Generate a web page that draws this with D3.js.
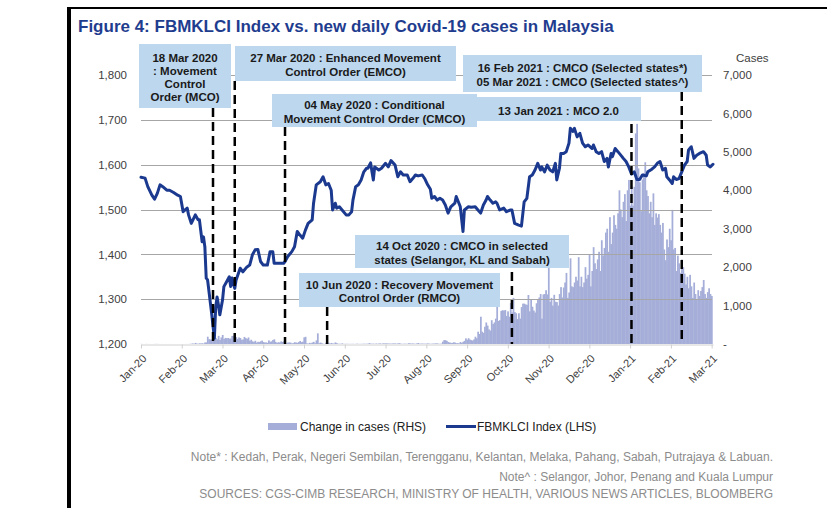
<!DOCTYPE html>
<html>
<head>
<meta charset="utf-8">
<script src="https://cdn.jsdelivr.net/npm/d3@7"></script>
<style>
  html, body { margin: 0; padding: 0; background: #ffffff; }
  svg { display: block; font-family: "Liberation Sans", Arial, sans-serif; }
</style>
</head>
<body>
<svg id="chart" width="836" height="508"></svg>
<script>
// ---------------- DATA ----------------
const chartTitle = "Figure 4: FBMKLCI Index vs. new daily Covid-19 cases in Malaysia";

// x categories: one per calendar day starting here
const firstDay = "2020-01-25";
const lastDay = "2021-03-21";

const xTickDates = ["2020-01-25","2020-02-24","2020-03-25","2020-04-24","2020-05-24","2020-06-23","2020-07-23",
  "2020-08-22","2020-09-21","2020-10-21","2020-11-20","2020-12-20","2021-01-19","2021-02-18","2021-03-20"];
const xTickLabels = ["Jan-20","Feb-20","Mar-20","Apr-20","May-20","Jun-20","Jul-20","Aug-20","Sep-20","Oct-20",
  "Nov-20","Dec-20","Jan-21","Feb-21","Mar-21"];

const leftTicks = [1200, 1300, 1400, 1500, 1600, 1700, 1800];
const rightTicks = [0, 1000, 2000, 3000, 4000, 5000, 6000, 7000];

// Change in cases (RHS), daily from firstDay
const casesValues = [
  3,1,0,0,3,0,1,
  0,0,0,2,2,2,1,0,1,0,0,1,0,0,1,0,0,0,0,0,0,0,0,0,0,0,1,1,0,
  4,7,14,5,28,10,6,18,12,20,9,39,41,190,125,120,117,110,130,153,123,212,106,172,235,130,159,150,156,140,
  142,208,217,150,179,131,170,156,109,118,184,153,134,170,85,110,69,54,84,36,57,50,71,88,51,38,40,31,94,57,
  69,105,122,55,30,45,39,68,54,67,70,16,37,40,36,17,22,47,37,31,50,78,48,60,172,187,15,10,30,20,38,
  57,20,93,277,19,37,19,7,2,31,2,33,8,27,14,10,41,21,6,7,5,15,4,3,5,4,3,3,4,4,
  2,3,8,3,3,4,5,7,5,8,6,23,8,6,10,3,13,6,11,15,5,15,14,16,13,13,10,8,14,13,14,
  8,14,20,11,3,7,8,6,7,20,14,11,14,8,6,15,25,7,9,12,8,7,11,13,10,5,7,11,12,14,16,
  6,5,10,62,100,100,82,50,40,30,26,45,38,20,22,15,52,28,57,82,147,111,150,115,101,89,120,190,150,320,
  260,710,320,290,450,560,480,380,350,620,520,560,
  660,970,600,620,860,880,870,885,730,850,710,1065,820,1200,830,
  800,650,800,660,960,1050,1050,1030,1020,1275,850,1170,970,870,820,
  1060,1160,1210,1300,660,1290,1300,1400,1290,1980,1100,1200,1000,1280,1100,
  1090,1000,1300,1480,1210,1470,1600,1850,1200,1340,2230,1500,1480,1600,1750,
  1650,2260,1500,1750,1480,1600,2000,1700,1800,2315,1500,1900,2520,2100,1950,
  2200,2400,1900,2700,2300,2500,2900,3000,2400,3300,2600,2900,3350,3100,3000,
  3400,4000,3500,3300,3700,3900,3200,4000,4270,3600,4100,3600,
  4090,5480,5728,4570,4210,3455,4280,4450,4730,4000,
  3850,3400,3700,3300,3920,3100,3400,3290,
  3380,3100,2900,3150,2460,2180,2720,2520,3000,2700,
  3490,
  2460,2500,1900,2300,2100,1850,2200,2000,
  1830,1550,1750,1450,1800,1500,1200,1600,1300,1150,
  1400,1250,1380,1480,1665,1300,1200,1350,1450,1300,1250
];

// FBMKLCI Index (LHS)
const klciDates = [
  "2020-01-25","2020-01-28","2020-01-30","2020-02-02","2020-02-04","2020-02-06","2020-02-08","2020-02-10","2020-02-13","2020-02-15",
  "2020-02-18","2020-02-21","2020-02-23","2020-02-25","2020-02-28","2020-02-29","2020-03-02","2020-03-05","2020-03-07","2020-03-08",
  "2020-03-10","2020-03-11","2020-03-12","2020-03-13","2020-03-14","2020-03-17","2020-03-19","2020-03-20","2020-03-21","2020-03-22",
  "2020-03-23","2020-03-25","2020-03-26","2020-03-28","2020-03-30","2020-03-31","2020-04-01","2020-04-03","2020-04-04","2020-04-07",
  "2020-04-09","2020-04-12","2020-04-14","2020-04-16","2020-04-18","2020-04-20","2020-04-22","2020-04-24","2020-04-27","2020-04-29",
  "2020-05-01","2020-05-02","2020-05-05","2020-05-09","2020-05-10","2020-05-12","2020-05-15","2020-05-17","2020-05-19","2020-05-21",
  "2020-05-23","2020-05-25","2020-05-27","2020-05-30","2020-05-31","2020-06-02","2020-06-05","2020-06-07","2020-06-09","2020-06-11",
  "2020-06-13","2020-06-14","2020-06-16","2020-06-17","2020-06-19","2020-06-21","2020-06-24","2020-06-26","2020-06-28","2020-06-29",
  "2020-07-01","2020-07-03","2020-07-05","2020-07-07","2020-07-09","2020-07-10","2020-07-12","2020-07-13","2020-07-14","2020-07-15",
  "2020-07-18","2020-07-20","2020-07-23","2020-07-25","2020-07-27","2020-07-30","2020-08-01","2020-08-03","2020-08-05","2020-08-08",
  "2020-08-10","2020-08-12","2020-08-14","2020-08-16","2020-08-19","2020-08-21","2020-08-23","2020-08-25","2020-08-26","2020-08-28",
  "2020-08-30","2020-09-01","2020-09-03","2020-09-05","2020-09-07","2020-09-09","2020-09-12","2020-09-13","2020-09-15","2020-09-16",
  "2020-09-18","2020-09-19","2020-09-22","2020-09-24","2020-09-27","2020-09-29","2020-10-01","2020-10-03","2020-10-05","2020-10-06",
  "2020-10-08","2020-10-10","2020-10-12","2020-10-13","2020-10-15","2020-10-18","2020-10-20","2020-10-23","2020-10-24","2020-10-26",
  "2020-10-29","2020-10-31","2020-11-02","2020-11-04","2020-11-06","2020-11-08","2020-11-10","2020-11-12","2020-11-14","2020-11-15",
  "2020-11-17","2020-11-19","2020-11-21","2020-11-23","2020-11-25","2020-11-26","2020-11-28","2020-11-29","2020-12-01","2020-12-03",
  "2020-12-05","2020-12-06","2020-12-08","2020-12-09","2020-12-11","2020-12-13","2020-12-15","2020-12-17","2020-12-19","2020-12-22",
  "2020-12-23","2020-12-25","2020-12-27","2020-12-29","2020-12-31","2021-01-02","2021-01-03","2021-01-05","2021-01-06","2021-01-08",
  "2021-01-10","2021-01-13","2021-01-14","2021-01-16","2021-01-18","2021-01-20","2021-01-22","2021-01-24","2021-01-26","2021-01-28",
  "2021-01-31","2021-02-01","2021-02-04","2021-02-06","2021-02-08","2021-02-10","2021-02-12","2021-02-14","2021-02-15","2021-02-17",
  "2021-02-19","2021-02-20","2021-02-22","2021-02-24","2021-02-26","2021-02-28","2021-03-02","2021-03-03","2021-03-05","2021-03-07",
  "2021-03-09","2021-03-11","2021-03-14","2021-03-16","2021-03-17","2021-03-19","2021-03-21"
];
const klciValues = [
  1572,1570,1551,1532,1523,1536,1555,1551,1543,1543,
  1538,1532,1529,1495,1503,1488,1469,1488,1477,1477,
  1428,1439,1417,1347,1343,1268,1213,1283,1305,1287,
  1265,1298,1328,1339,1350,1328,1347,1324,1343,1369,
  1361,1372,1376,1399,1410,1411,1384,1376,1376,1406,
  1406,1380,1380,1380,1384,1395,1406,1417,1451,1443,
  1436,1454,1469,1477,1514,1555,1562,1573,1555,1558,
  1543,1499,1514,1503,1506,1499,1488,1488,1495,1521,
  1551,1555,1566,1584,1592,1592,1604,1584,1566,1595,
  1588,1592,1603,1595,1609,1599,1573,1584,1577,1577,
  1562,1569,1577,1575,1577,1568,1555,1545,1525,1529,
  1521,1525,1521,1510,1492,1506,1514,1529,1514,1506,
  1451,1499,1506,1505,1506,1499,1492,1510,1521,1529,
  1521,1514,1517,1514,1499,1503,1495,1499,1499,1469,
  1465,1463,1517,1525,1573,1577,1588,1603,1588,1595,
  1584,1599,1588,1584,1603,1566,1592,1625,1625,1629,
  1648,1681,1674,1681,1662,1670,1648,1640,1644,1636,
  1644,1629,1625,1629,1607,1614,1595,1625,1618,1636,
  1629,1618,1614,1607,1595,1579,1584,1567,1567,1577,
  1575,1584,1590,1595,1603,1607,1588,1592,1573,1566,
  1558,1573,1567,1569,1584,1599,1607,1633,1640,1614,
  1621,1625,1629,1621,1599,1595,1601
];

// Policy events: label text and the date where the chart places each marker
const eventLabels = [
  ["18 Mar 2020", ": Movement", "Control", "Order (MCO)"],
  ["27 Mar 2020 : Enhanced Movement", "Control Order (EMCO)"],
  ["04 May 2020 : Conditional", "Movement Control Order (CMCO)"],
  ["10 Jun 2020 : Recovery Movement", "Control Order (RMCO)"],
  ["14 Oct 2020 : CMCO in selected", "states (Selangor, KL and Sabah)"],
  ["13 Jan 2021 : MCO 2.0"],
  ["16 Feb 2021 : CMCO (Selected states*)", "05 Mar 2021 : CMCO (Selected states^)"]
];
const eventMarkerDates = ["2020-03-18","2020-04-03","2020-05-10","2020-06-10","2020-10-24","2021-01-20","2021-02-26"];

const legendLabels = ["Change in cases (RHS)", "FBMKLCI Index (LHS)"];
const noteLines = [
  "Note* : Kedah, Perak, Negeri Sembilan, Terengganu, Kelantan, Melaka, Pahang, Sabah, Putrajaya & Labuan.",
  "Note^ : Selangor, Johor, Penang and Kuala Lumpur",
  "SOURCES: CGS-CIMB RESEARCH, MINISTRY OF HEALTH, VARIOUS NEWS ARTICLES, BLOOMBERG"
];

// ---------------- LAYOUT / STYLE ----------------
const plot = { left: 141, right: 713, top: 75, bottom: 344 };
const boxLayout = [
  { x: 139, y: 44, w: 92, h: 64, top: 108 },
  { x: 235, y: 46, w: 221, h: 35, top: 81 },
  { x: 272, y: 94, w: 205, h: 33, top: 127 },
  { x: 299, y: 273, w: 201, h: 34, top: 307 },
  { x: 355, y: 235, w: 214, h: 33, top: 272 },
  { x: 476, y: 97, w: 165, h: 24, top: 124 },
  { x: 463, y: 55, w: 239, h: 37, top: 92 }
];
const colors = { bar: "#a5aed8", line: "#1b3a8f", grid: "#a6a6a6", box: "#bdd7ee", title: "#1f3d8f", axisText: "#404040", note: "#8c8c8c" };

// ---------------- DRAW ----------------
const svg = d3.select("#chart");
const parse = d3.utcParse("%Y-%m-%d");
const start = parse(firstDay);

const x = d3.scaleUtc().domain([start, parse(lastDay)]).range([plot.left, plot.right]);
const yL = d3.scaleLinear().domain([1200, 1800]).range([plot.bottom, plot.top]);
const yR = d3.scaleLinear().domain([0, 7000]).range([plot.bottom, plot.top]);

// frame
svg.append("rect").attr("x", 67).attr("y", 7).attr("width", 760).attr("height", 2).attr("fill", "#000");
svg.append("rect").attr("x", 67).attr("y", 7).attr("width", 4).attr("height", 501).attr("fill", "#000");

// title
svg.append("text").attr("x", 78).attr("y", 32).attr("font-size", 17).attr("font-weight", "bold")
  .attr("fill", colors.title).text(chartTitle);

// bars
const cases = casesValues.map((v, i) => ({ date: d3.utcDay.offset(start, i), v }));
const step = x(d3.utcDay.offset(start, 1)) - x(start);
svg.append("g").selectAll("rect").data(cases).join("rect")
  .attr("x", d => x(d.date) - step / 2)
  .attr("width", step + 0.4)
  .attr("y", d => yR(d.v))
  .attr("height", d => yR(0) - yR(d.v))
  .attr("fill", colors.bar);

// gridlines
svg.append("g").selectAll("line").data(leftTicks.slice(1)).join("line")
  .attr("x1", plot.left).attr("x2", plot.right - 1)
  .attr("y1", d => Math.round(yL(d)) + 0.5).attr("y2", d => Math.round(yL(d)) + 0.5)
  .attr("stroke", colors.grid).attr("stroke-width", 1);

// x axis
const xAxis = svg.append("g").attr("transform", `translate(0,${plot.bottom + 0.5})`)
  .call(d3.axisBottom(x).tickValues(xTickDates.map(parse)).tickFormat((d, i) => xTickLabels[i]).tickSize(4).tickSizeOuter(0));
xAxis.select(".domain").attr("stroke", "#d0d0d0");
xAxis.selectAll(".tick line").attr("stroke", "#d0d0d0");
xAxis.selectAll(".tick text")
  .attr("font-size", 11).attr("fill", colors.axisText).attr("font-family", null)
  .attr("text-anchor", "end").attr("y", 0).attr("dy", "0.35em")
  .attr("transform", "translate(3,12) rotate(-45)");

// left axis
const lAxis = svg.append("g").attr("transform", `translate(${plot.left - 14},0)`)
  .call(d3.axisLeft(yL).tickValues(leftTicks).tickFormat(d3.format(",")).tickSize(0).tickPadding(0));
lAxis.select(".domain").remove();
lAxis.selectAll("text").attr("font-size", 11.5).attr("fill", colors.axisText).attr("font-family", null);

// right axis
const rAxis = svg.append("g").attr("transform", `translate(${plot.right + 10},0)`)
  .call(d3.axisRight(yR).tickValues(rightTicks).tickFormat(d => d === 0 ? "-" : d3.format(",")(d)).tickSize(0).tickPadding(0));
rAxis.select(".domain").remove();
rAxis.selectAll("text").attr("font-size", 11.5).attr("fill", colors.axisText).attr("font-family", null);
svg.append("text").attr("x", 736).attr("y", 62).attr("font-size", 11.5).attr("fill", colors.axisText).text("Cases");

// KLCI line
const klci = klciDates.map((d, i) => ({ date: parse(d), v: klciValues[i] }));
svg.append("path").datum(klci)
  .attr("d", d3.line().x(d => x(d.date)).y(d => yL(d.v)))
  .attr("fill", "none").attr("stroke", colors.line).attr("stroke-width", 3)
  .attr("stroke-linejoin", "round").attr("stroke-linecap", "round");

// event markers
svg.append("g").selectAll("line").data(eventMarkerDates).join("line")
  .attr("x1", d => x(parse(d))).attr("x2", d => x(parse(d)))
  .attr("y1", (d, i) => boxLayout[i].top).attr("y2", plot.bottom)
  .attr("stroke", "#000").attr("stroke-width", 2.5).attr("stroke-dasharray", "9,5");

// event boxes
const boxes = svg.append("g").selectAll("g").data(eventLabels).join("g");
boxes.append("rect")
  .attr("x", (d, i) => boxLayout[i].x).attr("y", (d, i) => boxLayout[i].y)
  .attr("width", (d, i) => boxLayout[i].w).attr("height", (d, i) => boxLayout[i].h)
  .attr("fill", colors.box);
boxes.each(function (lines, i) {
  const b = boxLayout[i];
  const cy = b.y + b.h / 2 + 1.5;
  d3.select(this).selectAll("text").data(lines).join("text")
    .attr("x", b.x + b.w / 2)
    .attr("y", (t, j) => cy + (j - (lines.length - 1) / 2) * 13.3)
    .attr("dy", "0.35em").attr("text-anchor", "middle")
    .attr("font-size", 11.5).attr("font-weight", "bold").attr("fill", "#1a1a1a")
    .text(t => t);
});

// legend
const lg = svg.append("g");
lg.append("rect").attr("x", 268).attr("y", 423).attr("width", 29).attr("height", 7).attr("fill", colors.bar);
lg.append("text").attr("x", 300).attr("y", 426.5).attr("dy", "0.35em").attr("font-size", 12).attr("fill", "#222").text(legendLabels[0]);
lg.append("line").attr("x1", 446).attr("x2", 476).attr("y1", 426.5).attr("y2", 426.5).attr("stroke", colors.line).attr("stroke-width", 3);
lg.append("text").attr("x", 477).attr("y", 426.5).attr("dy", "0.35em").attr("font-size", 12).attr("fill", "#222").text(legendLabels[1]);

// notes
svg.append("g").selectAll("text").data(noteLines).join("text")
  .attr("x", 773).attr("y", (d, i) => [457, 477, 494][i]).attr("dy", "0.35em")
  .attr("text-anchor", "end").attr("font-size", 12).attr("fill", colors.note).text(d => d);
</script>
</body>
</html>
